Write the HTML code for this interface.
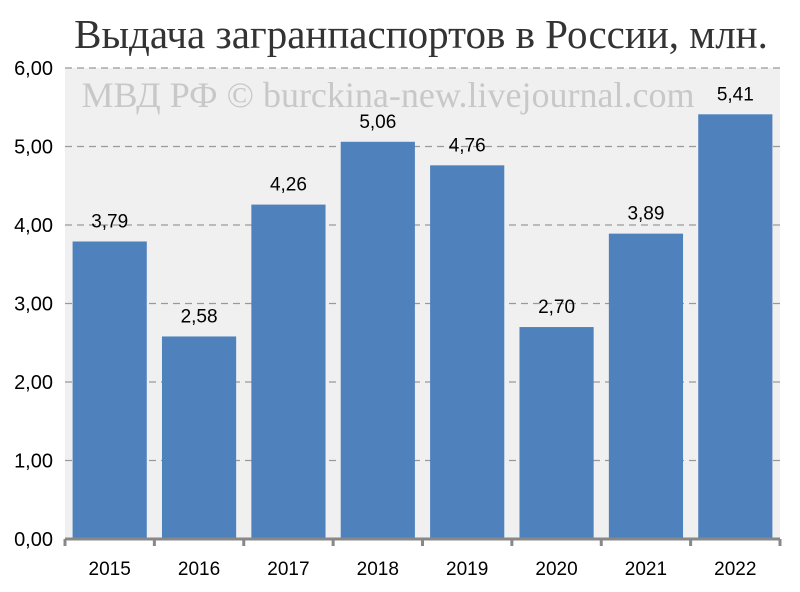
<!DOCTYPE html>
<html><head><meta charset="utf-8"><style>
body{margin:0;background:#fff;}
svg{display:block;}
</style></head><body>
<svg id="chart" width="800" height="592">
<rect x="0" y="0" width="800" height="592" fill="#fff"/>
<text x="421" y="48" text-anchor="middle" font-family="Liberation Serif, serif" font-size="41" fill="#333">Выдача загранпаспортов в России, млн.</text>
<rect x="65" y="68" width="715" height="471" fill="#f0f0f0"/>
<g id="grid"></g>
<text x="388" y="107" text-anchor="middle" font-family="Liberation Serif, serif" font-size="36" fill="#c8c8c8">МВД РФ © burckina-new.livejournal.com</text>
<g id="bars"></g>
<g id="axis"></g>
</svg>
<script>
const categories=["2015","2016","2017","2018","2019","2020","2021","2022"];
const values=[3.79,2.58,4.26,5.06,4.76,2.70,3.89,5.41];
const valueLabels=["3,79","2,58","4,26","5,06","4,76","2,70","3,89","5,41"];
const yTicks=[0,1,2,3,4,5,6];
const yTickLabels=["0,00","1,00","2,00","3,00","4,00","5,00","6,00"];
const NS="http://www.w3.org/2000/svg";
const pLeft=65,pRight=780,pTop=68,pBottom=539,yMax=6;
const band=(pRight-pLeft)/categories.length;
function yPos(v){return pBottom-(v/yMax)*(pBottom-pTop);}
function xPos(i){return pLeft+i*band;}
function mk(t,a,p){const e=document.createElementNS(NS,t);for(const k in a)e.setAttribute(k,a[k]);p.appendChild(e);return e;}
const grid=document.getElementById('grid'),bars=document.getElementById('bars'),axis=document.getElementById('axis');
yTicks.forEach((t,i)=>{
 if(t>0){const l=mk('line',{x1:pLeft,x2:pRight,y1:yPos(t),y2:yPos(t),stroke:'#999','stroke-dasharray':'7,5','stroke-width':1.3},grid);
 
 }
 const tx=mk('text',{x:53,y:yPos(t)+7,'text-anchor':'end','font-family':'Liberation Sans, sans-serif','font-size':20,fill:'#000'},axis);
 tx.textContent=yTickLabels[i];
 
 
});
categories.forEach((c,i)=>{
 const bw=band*0.83, bx=xPos(i)+(band-bw)/2;
 const r=mk('rect',{x:bx,y:yPos(values[i]),width:bw,height:pBottom-yPos(values[i]),fill:'#4f81bd'},bars);
 
 
 const lb=mk('text',{x:bx+bw/2,y:yPos(values[i])-14,'text-anchor':'middle','font-family':'Liberation Sans, sans-serif','font-size':19,fill:'#000'},bars);
 lb.textContent=valueLabels[i];
 
 
 const cl=mk('text',{x:xPos(i)+band/2,y:575,'text-anchor':'middle','font-family':'Liberation Sans, sans-serif','font-size':19,fill:'#000'},axis);
 cl.textContent=c;
 
 
});
const al=mk('line',{x1:pLeft,x2:pRight,y1:pBottom,y2:pBottom,stroke:'#888','stroke-width':3},axis);


for(let i=0;i<=categories.length;i++){
 const tk=mk('line',{x1:xPos(i),x2:xPos(i),y1:pBottom,y2:pBottom+7,stroke:'#888','stroke-width':3},axis);
 
 
}
</script>
</body></html>
